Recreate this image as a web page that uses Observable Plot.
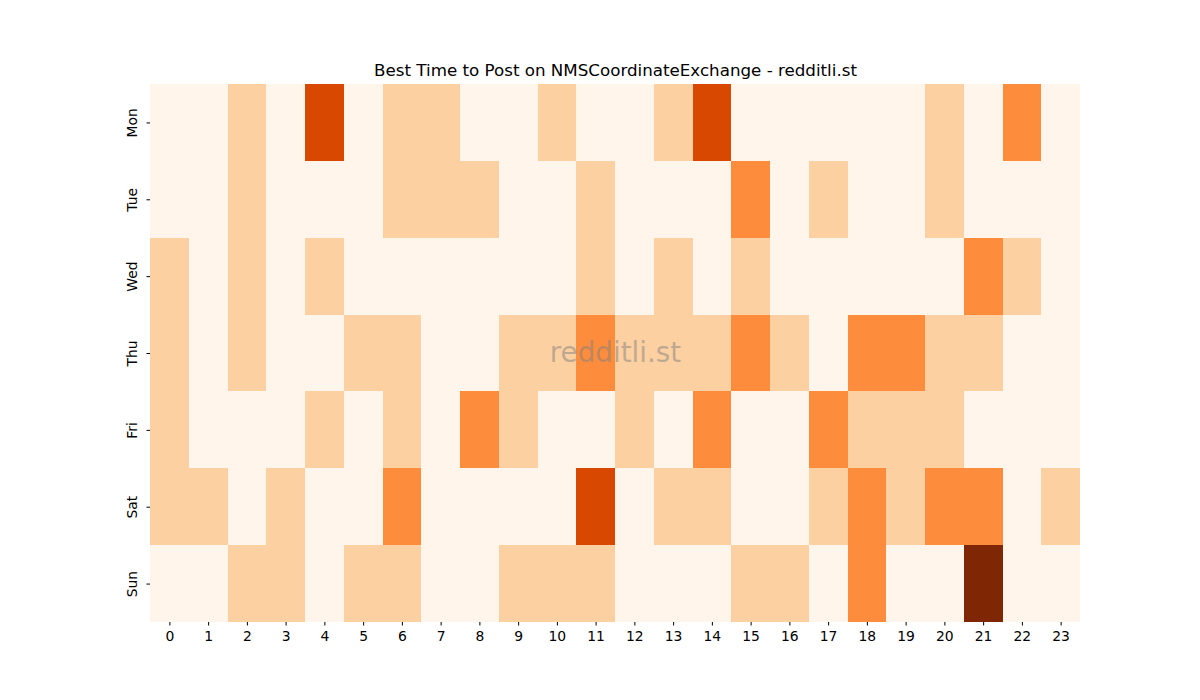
<!DOCTYPE html>
<html>
<head>
<meta charset="utf-8">
<script src="https://cdn.jsdelivr.net/npm/d3@7"></script>
<script src="https://cdn.jsdelivr.net/npm/@observablehq/plot@0.6"></script>
<style>
  html, body { margin: 0; padding: 0; background: #fff; }
  svg { font-family: "DejaVu Sans", sans-serif; }
</style>
</head>
<body>
<div id="chart"></div>
<script>
const days = ["Mon", "Tue", "Wed", "Thu", "Fri", "Sat", "Sun"];
const hours = d3.range(24).map(String);
const mon = [0,0,1,0,3,0,1,1,0,0,1,0,0,1,3,0,0,0,0,0,1,0,2,0];
const tue = [0,0,1,0,0,0,1,1,1,0,0,1,0,0,0,2,0,1,0,0,1,0,0,0];
const wed = [1,0,1,0,1,0,0,0,0,0,0,1,0,1,0,1,0,0,0,0,0,2,1,0];
const thu = [1,0,1,0,0,1,1,0,0,1,1,2,1,1,1,2,1,0,2,2,1,1,0,0];
const fri = [1,0,0,0,1,0,1,0,2,1,0,0,1,0,2,0,0,2,1,1,1,0,0,0];
const sat = [1,1,0,1,0,0,2,0,0,0,0,3,0,1,1,0,0,1,2,1,2,2,0,1];
const sun = [0,0,1,1,0,1,1,0,0,1,1,1,0,0,0,1,1,0,2,0,0,4,0,0];
const levels = [0, 1, 2, 3, 4];
const levelColors = ["#fff5eb", "#fdd0a2", "#fd8d3c", "#d94801", "#7f2704"];
const titleText = "Best Time to Post on NMSCoordinateExchange - redditli.st";
const watermark = "redditli.st";

const rows = [mon, tue, wed, thu, fri, sat, sun];
const data = [];
rows.forEach((r, i) => r.forEach((v, h) => data.push({day: days[i], hour: hours[h], value: v})));

const chart = Plot.plot({
  width: 1200,
  height: 700,
  marginTop: 84,
  marginBottom: 78,
  marginLeft: 150,
  marginRight: 120,
  style: {fontFamily: "DejaVu Sans, sans-serif", fontSize: "13.9px", color: "#000", background: "#fff"},
  x: {type: "band", domain: hours, padding: 0, round: false},
  y: {type: "band", domain: days, padding: 0, round: false},
  color: {type: "ordinal", domain: levels, range: levelColors},
  marks: [
    Plot.cell(data, {x: "hour", y: "day", fill: "value", inset: 0, shapeRendering: "crispEdges"}),
    Plot.axisX({tickSize: 3.5, tickPadding: 5, label: null, fontSize: 13.9}),
    Plot.axisY({tickSize: 3.5, tickPadding: 10, tickRotate: -90, label: null, fontSize: 13.9}),
    Plot.text([titleText], {frameAnchor: "top", dy: -9, lineAnchor: "bottom", text: d => d, fontSize: 16.7, fill: "#000"}),
    Plot.text([watermark], {frameAnchor: "middle", text: d => d, fontSize: 27.8, fill: "#808080", fillOpacity: 0.5})
  ]
});
document.getElementById("chart").appendChild(chart);
</script>
</body>
</html>
